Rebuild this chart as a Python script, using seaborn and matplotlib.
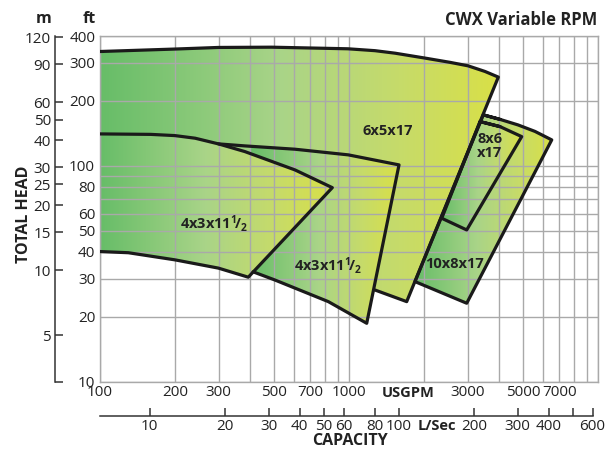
import numpy as np
import pandas as pd
import matplotlib
matplotlib.use("Agg")
import matplotlib.pyplot as plt
import seaborn as sns
from matplotlib.patches import Polygon
from matplotlib.colors import LinearSegmentedColormap
from matplotlib.ticker import NullLocator

# ---------------- data (USGPM, feet) ----------------
gpm_grid = [100, 200, 300, 400, 500, 600, 700, 800, 900,
            1000, 2000, 3000, 4000, 5000, 6000, 7000, 8000, 9000, 10000]
gpm_labels = ["100", "200", "300", "", "500", "", "700", "", "",
              "1000", "", "3000", "", "5000", "", "7000", "", "", ""]
ft_grid = [10, 20, 30, 40, 50, 60, 70, 80, 90, 100, 200, 300, 400]
ft_labels = ["10", "20", "30", "40", "50", "60", "", "80", "", "100", "200", "300", "400"]
m_ticks = [3.048, 5, 10, 15, 20, 25, 30, 40, 50, 60, 90, 120]
m_labels = ["", "5", "10", "15", "20", "25", "30", "40", "50", "60", "90", "120"]
ls_ticks = [6.309, 10, 20, 30, 40, 50, 60, 80, 100, 200, 300, 400, 500, 600]
ls_labels = ["", "10", "20", "30", "40", "50", "60", "80", "100", "200", "300", "400", "", "600"]

# 6x5x17 : top curve, right edge, short bottom edge
p6x5_q = [100, 200, 299, 489, 990, 1272, 1530, 2020, 2544, 3006, 3517, 3978, 1705, 1272]
p6x5_h = [339, 348, 354, 355, 349, 342, 333, 316, 302, 291, 274, 258, 23.5, 26.6]
p6x5_hidden = (100, 140.7)

# 4x3x11 1/2 (first, left)
p4a_q = [100, 160, 200, 241, 299, 382, 607, 857, 394, 299, 200, 130, 100]
p4a_h = [140.7, 140.0, 138.2, 134.4, 126.5, 116.5, 95.8, 79.3, 30.5, 33.6, 36.7, 39.6, 40.1]

# 4x3x11 1/2 (second)
p4b_q = [299, 382, 607, 994, 1588, 1178, 826, 504, 412]
p4b_h = [126.5, 123.8, 119.5, 112.5, 101.1, 18.65, 23.5, 29.6, 32.3]
p4b_back_q = [857, 607, 382]
p4b_back_h = [79.3, 95.8, 116.5]

# 10x8x17
p10_q = [3463, 4041, 4771, 5585, 6519, 2970, 1841]
p10_h = [172.4, 164.3, 154.9, 144.5, 132.0, 23.1, 29.1]

# 8x6x17
p8_q = [3358, 4041, 4938, 2970, 2357]
p8_h = [160.5, 152.1, 136.7, 50.5, 57.2]

# ---------------- figure ----------------
sns.set_theme(style="white")
plt.rcParams["font.family"] = ["Open Sans", "DejaVu Sans"]
plt.rcParams["mathtext.fontset"] = "custom"
plt.rcParams["mathtext.rm"] = "Open Sans:bold"
plt.rcParams["mathtext.it"] = "Open Sans:bold"
plt.rcParams["mathtext.bf"] = "Open Sans:bold"

W, H = 612, 450
fig = plt.figure(figsize=(W / 100, H / 100), dpi=100)
L, R, T, B = 100, 598, 36, 381.7
ax = fig.add_axes([L / W, 1 - B / H, (R - L) / W, (B - T) / H])
ax.set_xscale("log")
ax.set_yscale("log")

TXT = "#222222"
GRID = "#a9a9a9"
EDGE = "#1a1a1a"

cmap = LinearSegmentedColormap.from_list(
    "gy", [(0, "#67bd68"), (0.45, "#a9d488"), (0.75, "#c6db6a"), (1, "#d9e047")])
grad = np.linspace(0, 1, 256).reshape(1, -1)


def xfrac(q):
    return np.log10(q / 100.0) / 2.0


def gradient_fill(qs, hs, q0, q1):
    poly = Polygon(np.column_stack([qs, hs]), closed=True, facecolor="none",
                   edgecolor="none", transform=ax.transData)
    ax.add_patch(poly)
    im = ax.imshow(grad, cmap=cmap, aspect="auto", extent=[xfrac(q0), xfrac(q1), 0, 1],
                   transform=ax.transAxes, zorder=0.2, interpolation="bilinear")
    im.set_clip_path(poly)


def outline(qs, hs, closed=False):
    qs = list(qs)
    hs = list(hs)
    if closed:
        qs = qs + qs[:2]
        hs = hs + hs[:2]
    df = pd.DataFrame({"q": qs, "h": hs})
    sns.lineplot(data=df, x="q", y="h", sort=False, estimator=None, color=EDGE,
                 lw=2.3, ax=ax, zorder=3)


# fills
gradient_fill(p6x5_q + [p6x5_hidden[0]], p6x5_h + [p6x5_hidden[1]], 100, 3978)
gradient_fill(p4b_q + p4b_back_q, p4b_h + p4b_back_h, 405, 1588)
gradient_fill(p4a_q, p4a_h, 100, 857)
gradient_fill(p10_q, p10_h, 1841, 6519)
gradient_fill(p8_q, p8_h, 2357, 4938)

# outlines
outline(p6x5_q, p6x5_h)
outline(p4b_q, p4b_h)
outline(p4a_q, p4a_h)
outline(p10_q, p10_h, closed=True)
outline(p8_q, p8_h, closed=True)

ax.set_xlim(100, 10000)
ax.set_ylim(10, 400)
ax.set_xlabel("")
ax.set_ylabel("")

ax.set_xticks(gpm_grid, gpm_labels)
ax.set_yticks(ft_grid, ft_labels)
ax.xaxis.set_minor_locator(NullLocator())
ax.yaxis.set_minor_locator(NullLocator())
ax.tick_params(axis="both", length=0, labelsize=11, labelcolor=TXT)
ax.tick_params(axis="x", pad=2.5)
ax.tick_params(axis="y", pad=3.5)
ax.set_axisbelow(True)
ax.grid(True, which="major", color=GRID, lw=1.0)
for s in ax.spines.values():
    s.set_color(GRID)
    s.set_linewidth(1.0)

# metres axis
ft_per_m = 3.28084
secy = ax.secondary_yaxis(-(L - 55) / (R - L),
                          functions=(lambda f: f / ft_per_m, lambda m: m * ft_per_m))
secy.set_yticks(m_ticks, m_labels)
secy.yaxis.set_minor_locator(NullLocator())
secy.tick_params(axis="y", which="major", direction="in", length=5.5, width=1.1,
                 color="#333333", labelsize=11, labelcolor=TXT, pad=3)
secy.spines["left"].set_color("#333333")
secy.spines["left"].set_linewidth(1.1)

# litres per second axis
gpm_per_ls = 15.85
secx = ax.secondary_xaxis(-(416 - B) / (B - T),
                          functions=(lambda q: q / gpm_per_ls, lambda l: l * gpm_per_ls))
secx.set_xticks(ls_ticks, ls_labels)
secx.xaxis.set_minor_locator(NullLocator())
secx.tick_params(axis="x", which="major", direction="in", length=6, width=1.1,
                 color="#333333", labelsize=11, labelcolor=TXT, pad=2.5)
secx.spines["bottom"].set_color("#333333")
secx.spines["bottom"].set_linewidth(1.1)
try:
    secx.spines["bottom"].set_bounds(100 / gpm_per_ls, 600)
except Exception:
    pass


def at(px, py):
    return (px - L) / (R - L), (B - py) / (B - T)


lab = dict(transform=ax.transAxes, ha="center", va="center", color=TXT,
           fontsize=10.5, fontweight="bold", zorder=5)
ax.text(*at(388, 131), "6x5x17", **lab)
ax.text(*at(214, 223), r"$4x3x11^{1}\!/_{2}$", **lab)
ax.text(*at(328, 265), r"$4x3x11^{1}\!/_{2}$", **lab)
ax.text(*at(490, 146), "8x6\nx17", linespacing=1.05, **lab)
ax.text(*at(455, 264), "10x8x17", **lab)


def ftext(px, py, s, **kw):
    d = dict(ha="center", va="center", color=TXT, fontweight="bold")
    d.update(kw)
    fig.text(px / W, 1 - py / H, s, **d)


ftext(44, 19, "m", fontsize=11.5)
ftext(89, 19, "ft", fontsize=11.5)
ftext(597, 20, "CWX Variable RPM", fontsize=12, ha="right")
ftext(24, 214, "TOTAL HEAD", fontsize=11.5, rotation=90)
ftext(350, 441, "CAPACITY", fontsize=11.5)
ftext(408, 393, "USGPM", fontsize=10.5)
ftext(437, 426, "L/Sec", fontsize=10.5)

fig.savefig("out.png", dpi=100)
